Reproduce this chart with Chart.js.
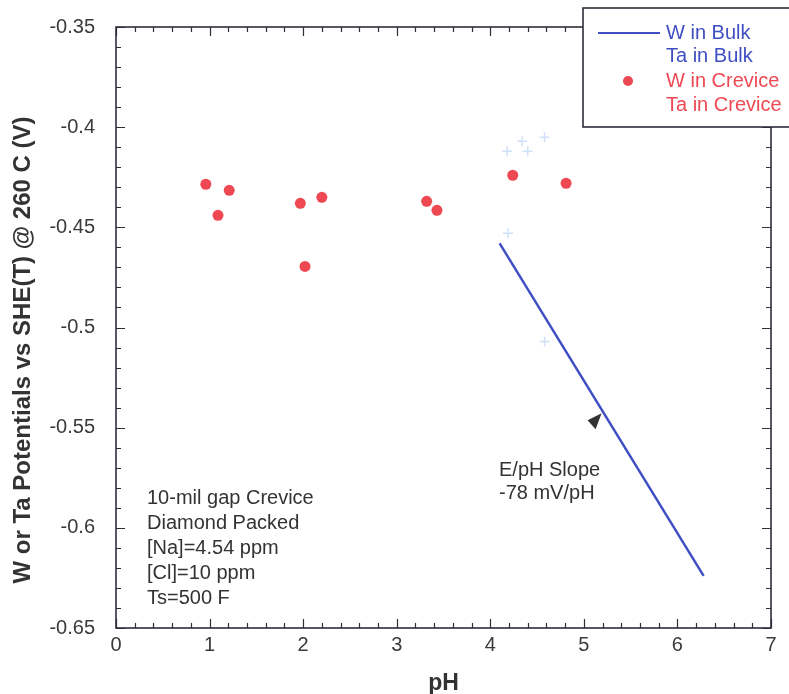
<!DOCTYPE html>
<html>
<head>
<meta charset="utf-8">
<script src="https://cdn.jsdelivr.net/npm/chart.js@4"></script>
<style>
  html, body { margin: 0; padding: 0; background: #ffffff; }
  #wrap { width: 789px; height: 694px; }
</style>
</head>
<body>
<div id="wrap"><canvas id="c" width="789" height="694"></canvas></div>
<script>
// Tungsten potential in bulk water (fitted line, pH vs volts)
const wBulkPH = [4.10, 6.28];
const wBulkE  = [-0.458, -0.624];

// Tantalum in bulk (faint cross markers)
const taBulkPH = [4.18, 4.34, 4.40, 4.58, 4.19, 4.58];
const taBulkE  = [-0.412, -0.407, -0.412, -0.405, -0.453, -0.507];

// Tungsten in the crevice
const wCrevicePH = [0.96, 1.09, 1.21, 1.97, 2.02, 2.20, 3.32, 3.43, 4.24, 4.81];
const wCreviceE  = [-0.4285, -0.444, -0.4315, -0.438, -0.4695, -0.435, -0.437, -0.4415, -0.424, -0.428];

// Tantalum in the crevice (no readings shown)
const taCrevicePH = [];
const taCreviceE  = [];

const seriesLabels = ["W in Bulk", "Ta in Bulk", "W in Crevice", "Ta in Crevice"];

const xTickValues = [0, 1, 2, 3, 4, 5, 6, 7];
const yTickValues = [-0.35, -0.4, -0.45, -0.5, -0.55, -0.6, -0.65];

const testConditions = ["10-mil gap Crevice", "Diamond Packed", "[Na]=4.54 ppm", "[Cl]=10 ppm", "Ts=500 F"];
const slopeNote = ["E/pH Slope", "-78 mV/pH"];
const slopeArrowPH = 5.2;

const xTitle = "pH";
const yTitle = "W or Ta Potentials vs SHE(T) @ 260 C (V)";

const toPoints = (xs, ys) => xs.map((x, i) => ({ x: x, y: ys[i] }));

const BLUE = '#3f4fc2';
const RED = '#ee4953';
const FONT = '"Liberation Sans", Arial, Helvetica, sans-serif';

const framePlugin = {
  id: 'frameAndNotes',
  afterDraw(chart) {
    const ctx = chart.ctx;
    const xs = chart.scales.x, ys = chart.scales.y;
    const L = xs.left, R = xs.right, T = ys.top, B = ys.bottom;
    ctx.save();

    // frame
    ctx.strokeStyle = '#2e2e3a';
    ctx.lineWidth = 1.6;
    ctx.strokeRect(L, T, R - L, B - T);

    // tick marks on all four sides, pointing inward
    ctx.lineWidth = 1.2;
    ctx.beginPath();
    for (let v = 0; v <= 7.0001; v += 0.2) {
      const major = Math.abs(v - Math.round(v)) < 1e-6;
      const len = major ? 9 : 5;
      const px = Math.round(xs.getPixelForValue(v)) + 0.5;
      ctx.moveTo(px, B); ctx.lineTo(px, B - len);
      ctx.moveTo(px, T); ctx.lineTo(px, T + len);
    }
    for (let i = 0; i <= 30; i++) {
      const v = -0.65 + i * 0.01;
      const major = i % 5 === 0;
      const len = major ? 9 : 5;
      const py = Math.round(ys.getPixelForValue(v)) + 0.5;
      ctx.moveTo(L, py); ctx.lineTo(L + len, py);
      ctx.moveTo(R, py); ctx.lineTo(R - len, py);
    }
    ctx.stroke();

    // axis titles
    ctx.fillStyle = '#333333';
    ctx.font = 'bold 23px ' + FONT;
    ctx.textAlign = 'center';
    ctx.textBaseline = 'middle';
    ctx.fillText(xTitle, (L + R) / 2, 684);
    ctx.save();
    ctx.translate(23, 350);
    ctx.rotate(-Math.PI / 2);
    ctx.font = 'bold 24px ' + FONT;
    ctx.fillText(yTitle, 0, 0);
    ctx.restore();

    // test conditions text
    ctx.font = '20px ' + FONT;
    ctx.textAlign = 'left';
    ctx.fillStyle = '#333333';
    testConditions.forEach((s, i) => ctx.fillText(s, 147, 498 + i * 25));

    // slope note
    slopeNote.forEach((s, i) => ctx.fillText(s, 499, 470 + i * 23));

    // arrow head pointing at the bulk line
    const t = (slopeArrowPH - wBulkPH[0]) / (wBulkPH[1] - wBulkPH[0]);
    const eAt = wBulkE[0] + t * (wBulkE[1] - wBulkE[0]);
    const tipX = xs.getPixelForValue(slopeArrowPH) - 1;
    const tipY = ys.getPixelForValue(eAt) + 2;
    ctx.fillStyle = '#333333';
    ctx.beginPath();
    ctx.moveTo(tipX, tipY);
    ctx.lineTo(tipX - 14, tipY + 7);
    ctx.lineTo(tipX - 6, tipY + 16);
    ctx.closePath();
    ctx.fill();

    // legend box
    const lx = 583, ly = 8;
    ctx.fillStyle = '#ffffff';
    ctx.fillRect(lx, ly, 230, 119);
    ctx.strokeStyle = '#2e2e3a';
    ctx.lineWidth = 1.6;
    ctx.strokeRect(lx, ly, 230, 119);

    const ds = chart.data.datasets;
    const rowY = [33, 56, 81, 105];
    ctx.font = '20px ' + FONT;
    ctx.textAlign = 'left';
    ctx.textBaseline = 'middle';
    // W in Bulk
    ctx.strokeStyle = ds[0].borderColor;
    ctx.lineWidth = 2;
    ctx.beginPath(); ctx.moveTo(598, rowY[0]); ctx.lineTo(660, rowY[0]); ctx.stroke();
    // W in Crevice marker
    ctx.fillStyle = ds[2].backgroundColor;
    ctx.beginPath(); ctx.arc(628, rowY[2], 5, 0, Math.PI * 2); ctx.fill();
    const textColors = [BLUE, BLUE, RED, RED];
    ds.forEach((d, i) => {
      ctx.fillStyle = textColors[i];
      ctx.fillText(d.label, 666, rowY[i]);
    });

    ctx.restore();
  }
};

new Chart(document.getElementById('c'), {
  type: 'scatter',
  data: {
    datasets: [
      {
        label: seriesLabels[0],
        data: toPoints(wBulkPH, wBulkE),
        showLine: true,
        borderColor: '#4050c4',
        backgroundColor: '#4050c4',
        borderWidth: 2.5,
        pointRadius: 0
      },
      {
        label: seriesLabels[1],
        data: toPoints(taBulkPH, taBulkE),
        pointStyle: 'cross',
        pointRadius: 5,
        borderColor: 'rgba(120,165,235,0.35)',
        backgroundColor: 'rgba(120,165,235,0.35)',
        borderWidth: 1.5
      },
      {
        label: seriesLabels[2],
        data: toPoints(wCrevicePH, wCreviceE),
        pointStyle: 'circle',
        pointRadius: 5.5,
        borderWidth: 0,
        borderColor: RED,
        backgroundColor: RED
      },
      {
        label: seriesLabels[3],
        data: toPoints(taCrevicePH, taCreviceE),
        pointRadius: 0,
        borderColor: RED,
        backgroundColor: RED
      }
    ]
  },
  options: {
    responsive: false,
    animation: false,
    devicePixelRatio: 1,
    layout: { padding: { left: 0, right: 18, top: 27, bottom: 0 } },
    plugins: {
      legend: { display: false },
      tooltip: { enabled: false }
    },
    scales: {
      x: {
        type: 'linear',
        min: 0, max: 7,
        grid: { display: false },
        border: { display: false },
        afterBuildTicks: s => { s.ticks = xTickValues.map(v => ({ value: v })); },
        ticks: {
          font: { family: FONT, size: 20 },
          color: '#3a3a3a',
          padding: -3,
          maxRotation: 0,
          callback: v => String(v)
        },
        afterFit: s => { s.height = 66; }
      },
      y: {
        type: 'linear',
        min: -0.65, max: -0.35,
        grid: { display: false },
        border: { display: false },
        afterBuildTicks: s => { s.ticks = yTickValues.map(v => ({ value: v })); },
        ticks: {
          font: { family: FONT, size: 20 },
          color: '#3a3a3a',
          padding: 13,
          callback: v => String(parseFloat(Number(v).toFixed(2)))
        },
        afterFit: s => { s.width = 116; }
      }
    }
  },
  plugins: [framePlugin]
});
</script>
</body>
</html>
